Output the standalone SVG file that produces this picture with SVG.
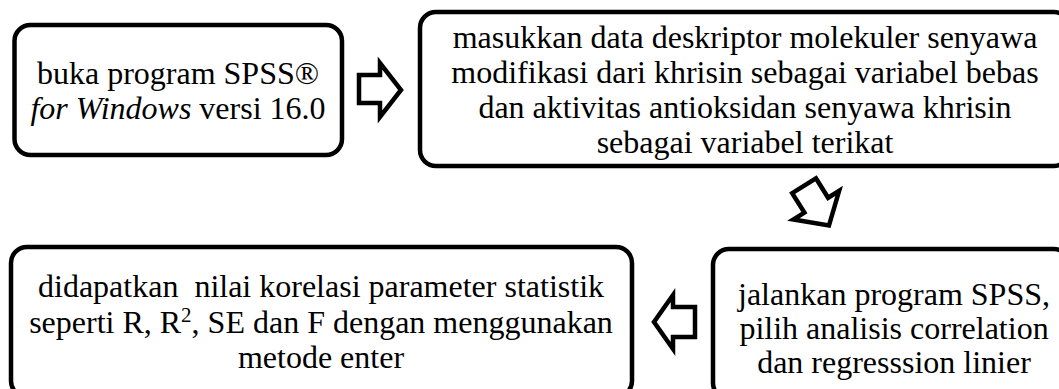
<svg xmlns="http://www.w3.org/2000/svg" width="1059" height="389" viewBox="0 0 1059 389">
  <style>
    .box { fill: #fff; stroke: #000; stroke-width: 4.5; }
    .arrow { fill: #fff; stroke: #000; stroke-width: 4.5; stroke-linejoin: miter; stroke-miterlimit: 10; }
    .t { font-family: "Liberation Serif", "Times New Roman", serif; font-size: 32px; fill: #000; text-anchor: middle; }
    .sup { font-size: 21px; }
  </style>
  <rect width="1059" height="389" fill="#fff"/>

  <!-- block arrows between the steps -->
  <g id="connectors">
    <polygon class="arrow" points="359,75 380,75 380,63 401,90 380,117 380,103 359,103"/>
    <polygon class="arrow" transform="translate(803,184) rotate(58)" points="2,-14 25,-14 25,-27 49,0 25,27 25,14 2,14"/>
    <polygon class="arrow" points="695,307 673,307 673,295 654,322 673,349 673,337 695,337"/>
  </g>

  <g id="step1">
    <rect class="box" x="14.5" y="25" width="327.5" height="130" rx="16"/>
    <text class="t" x="178" y="84">buka program SPSS®</text>
    <text class="t" x="178" y="119"><tspan font-style="italic">for Windows</tspan> versi 16.0</text>
  </g>

  <g id="step2">
    <rect class="box" x="420" y="12" width="650" height="154" rx="16"/>
    <text class="t" x="745" y="48">masukkan data deskriptor molekuler senyawa</text>
    <text class="t" x="745" y="83">modifikasi dari khrisin sebagai variabel bebas</text>
    <text class="t" x="745" y="118">dan aktivitas antioksidan senyawa khrisin</text>
    <text class="t" x="745" y="153">sebagai variabel terikat</text>
  </g>

  <g id="step3">
    <rect class="box" x="713" y="249" width="357" height="150" rx="16"/>
    <text class="t" x="894" y="305">jalankan program SPSS,</text>
    <text class="t" x="894" y="339">pilih analisis correlation</text>
    <text class="t" x="894" y="373">dan regresssion linier</text>
  </g>

  <g id="step4">
    <rect class="box" x="11" y="247" width="621" height="150" rx="16"/>
    <text class="t" x="321" y="297" xml:space="preserve">didapatkan  nilai korelasi parameter statistik</text>
    <text class="t" x="321" y="332.5">seperti R, R<tspan class="sup" dy="-11">2</tspan><tspan dy="11">, SE dan F dengan menggunakan</tspan></text>
    <text class="t" x="321" y="368">metode enter</text>
  </g>
</svg>
